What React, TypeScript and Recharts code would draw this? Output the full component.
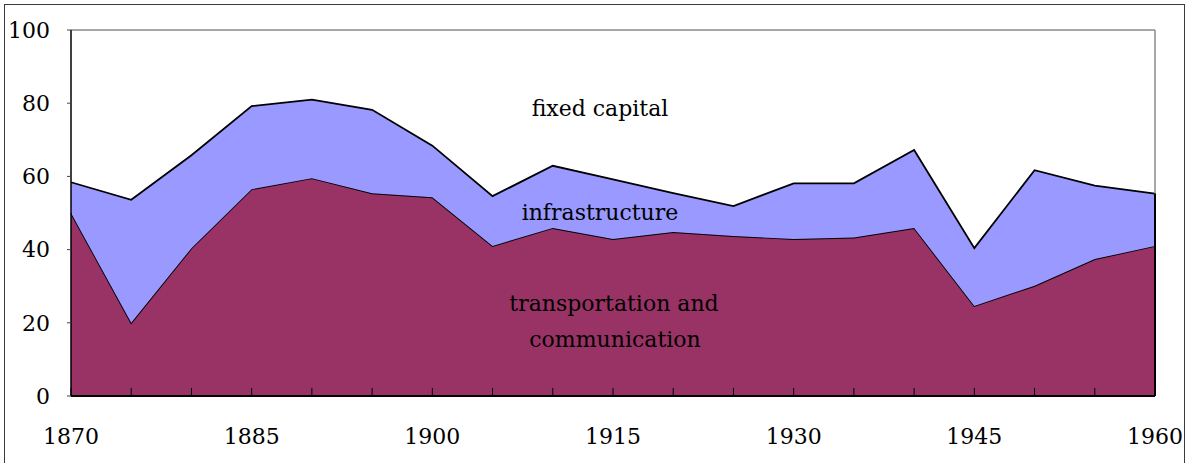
import React from 'react';
import {
  AreaChart,
  Area,
  XAxis,
  YAxis,
  ReferenceLine,
} from 'recharts';

const years = [1870, 1875, 1880, 1885, 1890, 1895, 1900, 1905, 1910, 1915, 1920, 1925, 1930, 1935, 1940, 1945, 1950, 1955, 1960];
const transportation = [50, 20, 40.4, 56.5, 59.5, 55.4, 54.3, 41, 45.9, 42.9, 44.8, 43.7, 42.9, 43.3, 45.9, 24.6, 30.1, 37.4, 41];
const infrastructure = [8.4, 33.6, 25.4, 22.7, 21.5, 22.8, 14.1, 13.6, 17, 16.3, 10.6, 8.2, 15.2, 14.8, 21.3, 15.8, 31.6, 20.1, 14.3];
const labelYears = [1870, 1885, 1900, 1915, 1930, 1945, 1960];
const yTicks = [0, 20, 40, 60, 80, 100];

const data = years.map((year, i) => ({
  year,
  transport: transportation[i],
  infra: infrastructure[i],
}));

const lastYear = years[years.length - 1];
const lastTotal = transportation[transportation.length - 1] + infrastructure[infrastructure.length - 1];

const FONT = '"DejaVu Serif", "Liberation Serif", serif';
const FS = 22;
// inward tick length, in y units (about 8px)
const TICK_LEN = 2.2;

function YearTick(props: any) {
  const { x, y, payload } = props;
  if (!labelYears.includes(payload.value)) return <g />;
  return (
    <text x={x} y={y + 48} textAnchor="middle" fontSize={FS} fontFamily={FONT} fill="#000">
      {payload.value}
    </text>
  );
}

export default function App() {
  return (
    <div style={{ position: 'absolute', left: 0, top: 0, width: 1186, height: 463, overflow: 'hidden', background: '#fff' }}>
      <div
        style={{
          position: 'absolute',
          left: 4,
          top: 4,
          width: 1181,
          height: 480,
          boxSizing: 'border-box',
          border: '1.5px solid #3c3c3c',
        }}
      />
      <div style={{ position: 'absolute', left: 0, top: 0 }}>
        <AreaChart
          width={1186}
          height={463}
          data={data}
          margin={{ top: 30, right: 31, left: 8, bottom: 7 }}
        >
          <XAxis
            dataKey="year"
            type="number"
            domain={[1870, 1960]}
            ticks={years}
            interval={0}
            height={60}
            tickSize={0}
            tickMargin={0}
            tickLine={false}
            axisLine={{ stroke: '#000', strokeWidth: 2 }}
            tick={<YearTick />}
          />
          <YAxis
            type="number"
            domain={[0, 100]}
            ticks={yTicks}
            width={63}
            tickSize={4}
            tickMargin={17}
            axisLine={{ stroke: '#000', strokeWidth: 1.5 }}
            tickLine={{ stroke: '#444' }}
            tick={{ fill: '#000', fontSize: FS, fontFamily: FONT }}
          />
          <ReferenceLine y={100} stroke="#8a8a8a" strokeWidth={1.5} />
          <ReferenceLine x={lastYear} stroke="#8a8a8a" strokeWidth={1.5} />
          <Area
            type="linear"
            dataKey="transport"
            stackId="1"
            fill="#993366"
            fillOpacity={1}
            stroke="#000"
            strokeWidth={1.8}
            isAnimationActive={false}
          />
          <Area
            type="linear"
            dataKey="infra"
            stackId="1"
            fill="#9999FF"
            fillOpacity={1}
            stroke="#000"
            strokeWidth={1.8}
            isAnimationActive={false}
          />
          {years.map((yr) => (
            <ReferenceLine
              key={yr}
              segment={[{ x: yr, y: 0 }, { x: yr, y: TICK_LEN }]}
              stroke="#000"
              strokeWidth={1}
            />
          ))}
          <ReferenceLine
            segment={[{ x: lastYear, y: 0 }, { x: lastYear, y: lastTotal }]}
            stroke="#000"
            strokeWidth={2}
          />
        </AreaChart>
      </div>
      <svg width={1186} height={463} style={{ position: 'absolute', left: 0, top: 0, pointerEvents: 'none' }}>
        <g fontFamily={FONT} fontSize={FS} fill="#000" textAnchor="middle">
          <text x={600} y={116}>fixed capital</text>
          <text x={600} y={220}>infrastructure</text>
          <text x={614} y={311}>transportation and</text>
          <text x={615} y={347}>communication</text>
        </g>
      </svg>
    </div>
  );
}
